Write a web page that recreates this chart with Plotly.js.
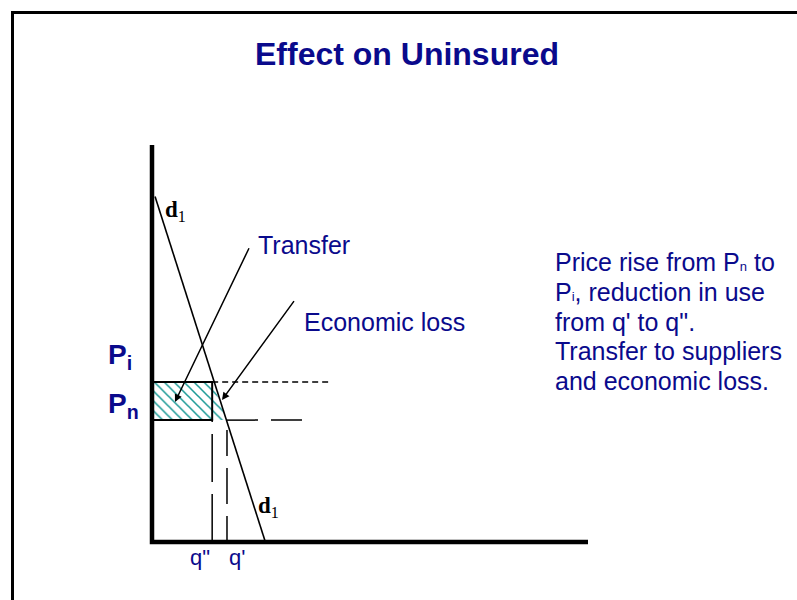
<!DOCTYPE html>
<html>
<head>
<meta charset="utf-8">
<script src="https://cdn.plot.ly/plotly-3.0.1.min.js"></script>
<style>html,body{margin:0;padding:0;background:#fff;}#chart{width:797px;height:600px;}</style>
</head>
<body>
<div id="chart"></div>
<script>
// ---- data (economic units) ----
const axisQ = [0, 0, 10];
const axisP = [10, 0, 0];
const demandQ = [0.07, 2.6];
const demandP = [8.7, 0];
const priceNames = ['P<sub>i</sub>', 'P<sub>n</sub>'];
const priceLevels = [4.03, 3.07];          // Pi, Pn
const quantityNames = ['q"', "q'"];
const quantityLevels = [1.38, 1.72];       // q'', q'
const guideEnds = [4.04, 3.52];            // end of dashed price guides
const titleText = 'Effect on Uninsured';
const noteLines = [
  "Price rise from P<span style='font-size:13px'>n</span> to",
  "P<span style='font-size:13px'>i</span>, reduction in use",
  "from q' to q\".",
  'Transfer to suppliers',
  'and economic loss.'
];

// ---- page geometry (pixels) ----
const W = 797, H = 600;
const OX = 152, OY = 542, PXQ = 43.6, PXP = 39.7;
const qx = px => (px - OX) / PXQ;
const py = p => (OY - p) / PXP;

const NAVY = '#0a0a8c';
const FONT = 'Liberation Sans, Arial, sans-serif';

const Pi = priceLevels[0], Pn = priceLevels[1];
const q2 = quantityLevels[0], q1 = quantityLevels[1];

const hatch = {shape: '\\', fgcolor: '#1a9a96', bgcolor: 'white', size: 7, solidity: 0.22};

const traces = [
  {x: [0, q2, q2, 0, 0], y: [Pn, Pn, Pi, Pi, Pn], fill: 'toself', fillpattern: hatch,
   fillcolor: 'white', mode: 'lines', line: {width: 0}, hoverinfo: 'skip'},
  {x: [q2, q2, q1, q2], y: [Pi, Pn, Pn, Pi], fill: 'toself', fillpattern: hatch,
   fillcolor: 'white', mode: 'lines', line: {width: 0}, hoverinfo: 'skip'},
  {x: [0, q2, q2, 0], y: [Pi, Pi, Pn, Pn], mode: 'lines', line: {color: 'black', width: 2}},
  {x: [q2, guideEnds[0]], y: [Pi, Pi], mode: 'lines', line: {color: 'black', width: 1.5, dash: '6px,4px'}},
  {x: [q1, guideEnds[1]], y: [Pn, Pn], mode: 'lines', line: {color: 'black', width: 1.5, dash: '31px,13px'}},
  {x: [q2, q2], y: [0, Pn], mode: 'lines', line: {color: 'black', width: 1.5, dash: '48px,12px'}},
  {x: [q1, q1], y: [0, Pn], mode: 'lines', line: {color: 'black', width: 1.5, dash: '26px,12px,36px,12px'}},
  {x: demandQ, y: demandP, mode: 'lines', line: {color: 'black', width: 1.6}},
  {x: axisQ, y: axisP, mode: 'lines', line: {color: 'black', width: 4.5}}
];

const ann = [];
ann.push({x: qx(106), y: py(356), text: priceNames[0], xanchor: 'left', yanchor: 'middle', showarrow: false,
  font: {family: FONT, size: 28, color: NAVY, weight: 700}});
ann.push({x: qx(106), y: py(405), text: priceNames[1], xanchor: 'left', yanchor: 'middle', showarrow: false,
  font: {family: FONT, size: 28, color: NAVY, weight: 700}});
ann.push({x: q2, y: py(557), text: quantityNames[0], xanchor: 'right', yanchor: 'middle', showarrow: false,
  font: {family: FONT, size: 22, color: NAVY}});
ann.push({x: q1, y: py(557), text: quantityNames[1], xanchor: 'left', yanchor: 'middle', showarrow: false,
  font: {family: FONT, size: 22, color: NAVY}});
ann.push({x: qx(163), y: py(211), text: '<b>d</b><sub>1</sub>', xanchor: 'left', yanchor: 'middle', showarrow: false,
  font: {family: 'Liberation Serif, Times New Roman, serif', size: 23, color: 'black'}});
ann.push({x: qx(256), y: py(507), text: '<b>d</b><sub>1</sub>', xanchor: 'left', yanchor: 'middle', showarrow: false,
  font: {family: 'Liberation Serif, Times New Roman, serif', size: 23, color: 'black'}});
ann.push({x: qx(175), y: py(402), ax: qx(252), ay: py(242), axref: 'x', ayref: 'y', xref: 'x', yref: 'y',
  text: ' ', showarrow: true, arrowhead: 2, arrowsize: 1, arrowwidth: 1.5, arrowcolor: 'black'});
ann.push({x: qx(222), y: py(400), ax: qx(297), ay: py(297), axref: 'x', ayref: 'y', xref: 'x', yref: 'y',
  text: ' ', showarrow: true, arrowhead: 2, arrowsize: 1, arrowwidth: 1.5, arrowcolor: 'black'});
ann.push({x: qx(256), y: py(245), text: 'Transfer', xanchor: 'left', yanchor: 'middle', showarrow: false,
  font: {family: FONT, size: 25, color: NAVY}});
ann.push({x: qx(302), y: py(322), text: 'Economic loss', xanchor: 'left', yanchor: 'middle', showarrow: false,
  font: {family: FONT, size: 25, color: NAVY}});
noteLines.forEach((t, i) => {
  ann.push({x: qx(553), y: py(262 + i * 29.8), text: t, xanchor: 'left', yanchor: 'middle', align: 'left',
    showarrow: false, font: {family: FONT, size: 25, color: NAVY}});
});

const layout = {
  width: W, height: H,
  margin: {l: 0, r: 0, t: 0, b: 0, pad: 0},
  paper_bgcolor: 'white', plot_bgcolor: 'white',
  showlegend: false,
  title: {text: titleText, x: 407 / W, y: 1 - 54 / H, xanchor: 'center', yanchor: 'middle', xref: 'paper', yref: 'paper',
    font: {family: FONT, size: 32, color: NAVY, weight: 700}},
  xaxis: {range: [qx(0), qx(W)], visible: false, fixedrange: true},
  yaxis: {range: [py(H), py(0)], visible: false, fixedrange: true},
  annotations: ann,
  shapes: [
    {type: 'path', xref: 'paper', yref: 'paper',
     path: `M ${12.5 / W} 0 L ${12.5 / W} ${1 - 12.5 / H} L 1 ${1 - 12.5 / H}`,
     line: {color: 'black', width: 3}}
  ]
};

Plotly.newPlot('chart', traces, layout, {displayModeBar: false, staticPlot: true});
</script>
</body>
</html>
